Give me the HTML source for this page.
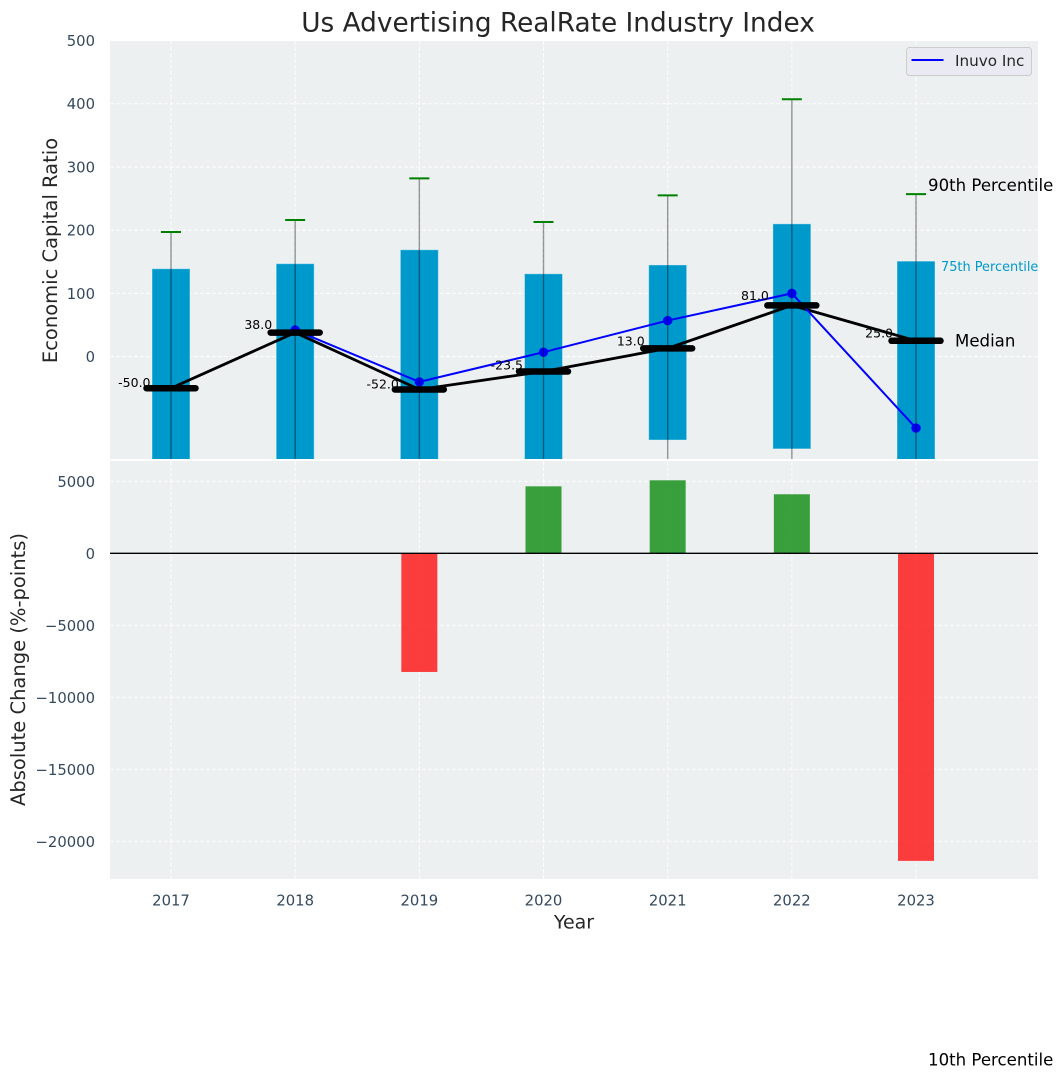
<!DOCTYPE html>
<html lang="en">
<head>
<meta charset="utf-8">
<title>Us Advertising RealRate Industry Index</title>
<style>
html,body{margin:0;padding:0;background:#fff;}
svg{display:block;font-family:"DejaVu Sans","Liberation Sans",sans-serif;}
</style>
</head>
<body>
<svg id="chart" xmlns="http://www.w3.org/2000/svg" width="1063" height="1079" viewBox="0 0 1063 1079">
  <defs>
    <clipPath id="clip-top"><rect x="110" y="41" width="928" height="418"/></clipPath>
    <clipPath id="clip-bottom"><rect x="110" y="461" width="928" height="418"/></clipPath>
  </defs>
  <rect x="110" y="41" width="928" height="418" fill="#ecf0f1"/>
  <rect x="110" y="461" width="928" height="418" fill="#ecf0f1"/>
  <g id="grid-top" clip-path="url(#clip-top)"></g>
  <g id="grid-bottom" clip-path="url(#clip-bottom)"></g>
  <g id="marks-top" clip-path="url(#clip-top)"></g>
  <g id="marks-bottom" clip-path="url(#clip-bottom)"></g>
  <g id="ticks"></g>
  <g id="annotations"></g>

  <text x="558" y="31.5" text-anchor="middle" font-size="26.35" fill="#262626">Us Advertising RealRate Industry Index</text>
  <text transform="translate(57 250.5) rotate(-90)" text-anchor="middle" font-size="19.5" fill="#262626">Economic Capital Ratio</text>
  <text transform="translate(25 669.5) rotate(-90)" text-anchor="middle" font-size="19.5" fill="#262626">Absolute Change (%-points)</text>
  <text x="574" y="928.5" text-anchor="middle" font-size="19" fill="#262626">Year</text>

  <g>
    <rect x="906.5" y="47.5" width="125" height="28" rx="3" fill="#eaeaf2" stroke="#cccccc" stroke-width="1"/>
    <line x1="911.5" y1="60" x2="943.5" y2="60" stroke="#0000ff" stroke-width="2"/>
    <text x="955" y="66" font-size="15.2" fill="#262626">Inuvo Inc</text>
  </g>
</svg>
<script>
var years = ['2017', '2018', '2019', '2020', '2021', '2022', '2023'];
var p90 = [197, 216, 282, 213, 255, 407, 257];
var p75 = [139, 147, 169, 131, 145, 210, 151];
var medians = [-50, 38, -52, -23.5, 13, 81, 25];
var p25 = [-230, -210, -240, -220, -132, -146, -260];
var p10 = [-600, -520, -650, -560, -480, -500, -1112];
var company = [null, 42, -40, 7, 57, 100, -113];
var absChange = [null, null, -8240, 4650, 5070, 4100, -21360];
var topTicks = [0, 100, 200, 300, 400, 500];
var bottomTicks = [5000, 0, -5000, -10000, -15000, -20000];

var NS = 'http://www.w3.org/2000/svg';
function x(i) { return 171 + i * 124.17; }
function yTop(v) { return 356.6 - v * 0.6322; }
function yBottom(v) { return 553.3 - v * 0.0144; }
function mk(tag, attrs, parent, txt) {
  var el = document.createElementNS(NS, tag);
  for (var k in attrs) { el.setAttribute(k, attrs[k]); }
  if (txt !== undefined) { el.textContent = txt; }
  parent.appendChild(el);
  return el;
}
var gridTop = document.getElementById('grid-top');
var gridBottom = document.getElementById('grid-bottom');
var marksTop = document.getElementById('marks-top');
var marksBottom = document.getElementById('marks-bottom');
var ticks = document.getElementById('ticks');
var annotations = document.getElementById('annotations');
var gridStyle = { stroke: '#ffffff', 'stroke-width': 1, 'stroke-dasharray': '4 2', 'stroke-opacity': 0.85 };
function gridLine(parent, x1, y1, x2, y2) {
  var a = { x1: x1, y1: y1, x2: x2, y2: y2 };
  for (var k in gridStyle) { a[k] = gridStyle[k]; }
  return mk('line', a, parent);
}

/* grid and tick labels */
topTicks.forEach(function (t) {
  var g = gridLine(gridTop, 110, yTop(t), 1038, yTop(t));
  
  
  var l = mk('text', { x: 95, y: yTop(t) + 5.5, 'text-anchor': 'end', 'font-size': 14.8, fill: '#34495e' }, ticks, String(t));
  
  
});
bottomTicks.forEach(function (t) {
  var g = gridLine(gridBottom, 110, yBottom(t), 1038, yBottom(t));
  
  
  var s = t < 0 ? '\u2212' + Math.abs(t) : String(t);
  var l = mk('text', { x: 95, y: yBottom(t) + 5.5, 'text-anchor': 'end', 'font-size': 14.8, fill: '#34495e' }, ticks, s);
  
  
});
years.forEach(function (yr, i) {
  var g1 = gridLine(gridTop, x(i), 41, x(i), 459);
  
  
  var g2 = gridLine(gridBottom, x(i), 461, x(i), 879);
  
  
  var l = mk('text', { x: x(i), y: 905.5, 'text-anchor': 'middle', 'font-size': 14.8, fill: '#34495e' }, ticks, yr);
  
  
});

/* interquartile bars */
years.forEach(function (yr, i) {
  var b = mk('rect', { x: x(i) - 19, y: yTop(p75[i]), width: 38, height: yTop(p25[i]) - yTop(p75[i]), fill: '#0099cc', stroke: '#ffffff', 'stroke-opacity': 0.4, 'stroke-width': 1 }, marksTop);
  
  
});

/* median connecting line */
var medianPts = medians.map(function (m, i) { return x(i) + ',' + yTop(m); }).join(' ');
var medLine = mk('polyline', { points: medianPts, fill: 'none', stroke: '#000000', 'stroke-width': 2.8 }, marksTop);



/* company series */
var companyPts = [];
company.forEach(function (v, i) { if (v !== null) { companyPts.push(x(i) + ',' + yTop(v)); } });
var coLine = mk('polyline', { points: companyPts.join(' '), fill: 'none', stroke: '#0000ff', 'stroke-width': 2 }, marksTop);


company.forEach(function (v, i) {
  if (v === null) { return; }
  var p = mk('circle', { cx: x(i), cy: yTop(v), r: 4.7, fill: '#0000ff' }, marksTop);
  
  
});

/* median dashes, whiskers, caps, value labels */
years.forEach(function (yr, i) {
  var m = medians[i];
  var d = mk('line', { x1: x(i) - 24.5, y1: yTop(m), x2: x(i) + 24.5, y2: yTop(m), stroke: '#000000', 'stroke-width': 6.5, 'stroke-linecap': 'round' }, marksTop);
  
  
  var w = mk('line', { x1: x(i), y1: yTop(p90[i]), x2: x(i), y2: yTop(p10[i]), stroke: '#000000', 'stroke-opacity': 0.4, 'stroke-width': 1.4 }, marksTop);
  
  
  var c = mk('line', { x1: x(i) - 10, y1: yTop(p90[i]), x2: x(i) + 10, y2: yTop(p90[i]), stroke: '#008000', 'stroke-width': 2 }, marksTop);
  
  
  var l = mk('text', { x: x(i) - 20.5 - (m > 0 ? 2.5 : 0), y: yTop(m) - 1 - 0.032 * (m + 50), 'text-anchor': 'end', 'font-size': 12.5, fill: '#000000' }, marksTop, m.toFixed(1));
  
  
});

/* absolute change bars */
absChange.forEach(function (v, i) {
  if (v === null) { return; }
  var top = Math.min(yBottom(v), yBottom(0));
  var h = Math.abs(yBottom(v) - yBottom(0));
  var b = mk('rect', { x: x(i) - 18, y: top, width: 36, height: h, fill: v > 0 ? '#0c8a0f' : '#ff0f0f', 'fill-opacity': 0.8 }, marksBottom);
  
  
});
var zero = mk('line', { x1: 110, y1: yBottom(0), x2: 1038, y2: yBottom(0), stroke: '#000000', 'stroke-width': 1.3 }, marksBottom);



/* percentile annotations anchored on the last year */
var last = years.length - 1;
var a90 = mk('text', { x: x(last) + 12, y: yTop(p90[last]) - 3, 'font-size': 16.6, fill: '#000000' }, annotations, '90th Percentile');


var a75 = mk('text', { x: x(last) + 25, y: yTop(p75[last]) + 10, 'font-size': 12.9, fill: '#0099cc' }, annotations, '75th Percentile');


var aMed = mk('text', { x: x(last) + 39, y: yTop(medians[last]) + 5.5, 'font-size': 16.6, fill: '#000000' }, annotations, 'Median');


var a10 = mk('text', { x: x(last) + 12, y: yTop(p10[last]) + 6, 'font-size': 16.6, fill: '#000000' }, annotations, '10th Percentile');


</script>
</body>
</html>
